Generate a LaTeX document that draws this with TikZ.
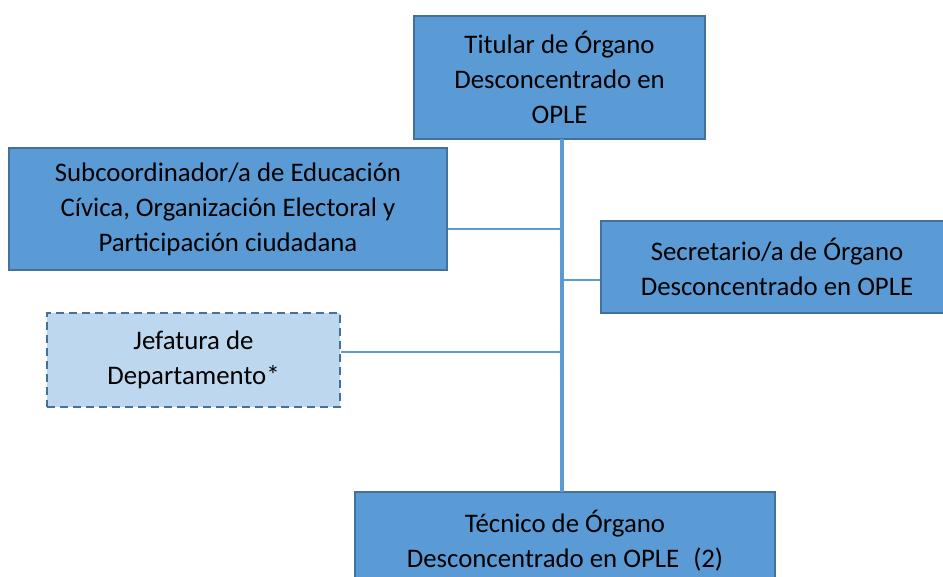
\documentclass[tikz,border=0pt]{standalone}
\usepackage{fontspec}
\setmainfont{Carlito}
\definecolor{boxfill}{HTML}{5B9BD5}
\definecolor{boxline}{HTML}{41719C}
\definecolor{lightfill}{HTML}{BDD7EE}
\begin{document}
\begin{tikzpicture}[x=1pt,y=-1pt,
  orgbox/.style={draw=boxline,fill=boxfill,line width=2pt,inner sep=0pt,align=center,
    font=\fontsize{26.8}{35}\selectfont,text=black},
  optbox/.style={orgbox,fill=lightfill,dashed,dash pattern=on 8pt off 5pt},
  link/.style={draw=boxfill,line width=2.5pt},
  trunkline/.style={draw=boxfill,line width=4pt}]
\useasboundingbox (0,0) rectangle (943,576);
\clip (0,0) rectangle (943,576);
\node[orgbox,minimum width=291pt,minimum height=123pt] (tit) at (559.5,77) {Titular de Órgano\\Desconcentrado en\\OPLE};
\node[orgbox,minimum width=438pt,minimum height=122pt] (sub) at (228,209) {Subcoordinador/a de Educación\\Cívica, Organización Electoral y\\Participación ciudadana};
\node[orgbox,minimum width=352pt,minimum height=92pt] (sec) at (777,267) {Secretario/a de Órgano\\Desconcentrado en OPLE};
\node[optbox,minimum width=293pt,minimum height=94pt] (jef) at (193.5,360) {Jefatura de\\Departamento*};
\node[orgbox,minimum width=420pt,minimum height=98pt] (tec) at (565,541) {Técnico de Órgano\\Desconcentrado en OPLE\hspace{14pt}(2)};
\coordinate (j1) at (562,229);
\coordinate (j2) at (562,280);
\coordinate (j3) at (562,352);
\coordinate (top) at (562,138.5);
\coordinate (bot) at (562,492);
\draw[trunkline] (top) -- (bot);
\draw[link] (sub.east |- j1) -- (j1);
\draw[link] (j2) -- (sec.west |- j2);
\draw[link] (jef.east |- j3) -- (j3);
\end{tikzpicture}
\end{document}
